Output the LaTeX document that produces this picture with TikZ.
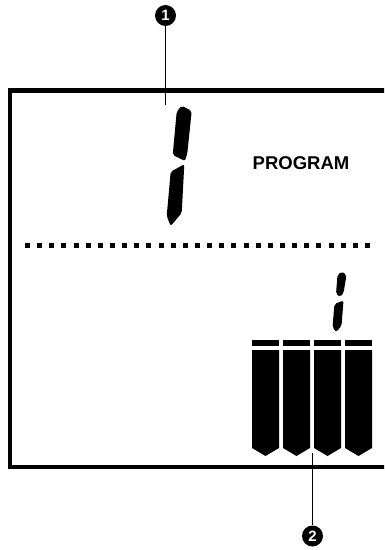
\documentclass[tikz,border=0pt]{standalone}
\usepackage{fontspec}
\setmainfont{Liberation Sans}
\begin{document}
\begin{tikzpicture}[x=1pt,y=-1pt]
\tikzset{
  callout/.style={circle, fill=black, text=white, inner sep=0pt, minimum size=21pt, font=\bfseries\fontsize{15}{15}\selectfont},
  leader/.style={line width=1.8},
  segment/.style={fill=black, rounded corners=2}
}
\clip (0,0) rectangle (384,550);
% display frame
\draw[line width=4.8] (400,90.5) -- (10,90.5) -- (10,467) -- (400,467);
% big digit
\fill[segment] (176.7,111.7) -- (181.7,105.7) -- (191.7,111) -- (187.3,153.3) -- (185,161) -- (172.7,155) -- cycle;
\fill[segment] (170.7,171.7) -- (184.3,164.3) -- (181.7,213) -- (170.7,226) -- (166.7,216) -- cycle;
\node[font=\bfseries\fontsize{18.5}{18.5}\selectfont, inner sep=0pt] (prog) at (301,163.5) {PROGRAM};
% separator
\draw[line width=5, dash pattern=on 5 off 7.14] (25,245.5) -- (372,245.5);
% small digit
\fill[segment] (337.5,275) -- (341.7,271.5) -- (346.5,275) -- (343.5,293) -- (340.5,297) -- (336,294) -- cycle;
\fill[segment] (334.5,304) -- (343.5,300.5) -- (341.5,326) -- (336,332) -- (332.5,327) -- cycle;
% battery bars
\foreach \i [evaluate=\i as \x using 252+31*\i] in {0,...,3} {
  \fill (\x,339.5) rectangle ++(27,6.5);
  \fill (\x,350) -- ++(27,0) -- ++(0,98) -- ++(-13.5,8) -- ++(-13.5,-8) -- cycle;
}
% callouts
\node[callout] (c1) at (165.5,15.5) {1};
\coordinate (tip1) at (165.5,105);
\draw[leader] (c1) -- (tip1);
\node[callout] (c2) at (312.5,536) {2};
\coordinate (tip2) at (312.5,453);
\draw[leader] (tip2) -- (c2);
\end{tikzpicture}
\end{document}
